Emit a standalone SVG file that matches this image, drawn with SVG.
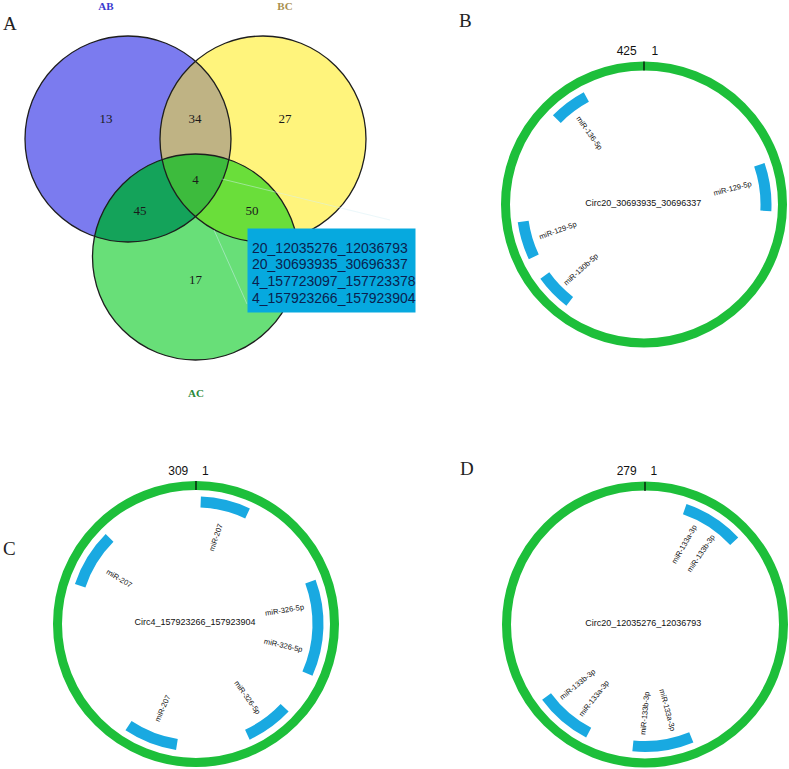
<svg xmlns="http://www.w3.org/2000/svg" width="789" height="769" viewBox="0 0 789 769">
<style>
.panel{font-family:"Liberation Serif",serif;font-size:19px;fill:#222}
.num{font-family:"Liberation Serif",serif;font-size:13px;fill:#1a1a1a;text-anchor:middle}
.set{font-family:"Liberation Serif",serif;font-size:11px;font-weight:bold;text-anchor:middle}
.outl{fill:none;stroke:#1e1e1e;stroke-width:1.3}
.ring{fill:none;stroke:#1dbf3a;stroke-width:9}
.arc{fill:none;stroke:#19a9e1;stroke-width:11}
.tick{stroke:#000;stroke-width:1.2}
.pos{font-family:"Liberation Sans",Arial,sans-serif;font-size:12px;fill:#111}
.mir{font-family:"Liberation Sans",Arial,sans-serif;font-size:7.5px;fill:#111;text-anchor:middle}
.circ{font-family:"Liberation Sans",Arial,sans-serif;font-size:9px;fill:#111;text-anchor:middle}
.box{font-family:"Liberation Sans",Arial,sans-serif;font-size:14px;fill:#0a1f4f}
.call{stroke:#d6f0f6;stroke-width:0.8;opacity:0.6}
</style>
<defs>
<clipPath id="cAB"><circle cx="128" cy="139" r="103"/></clipPath>
<clipPath id="cBC"><circle cx="263" cy="139" r="103"/></clipPath>
</defs>
<rect width="789" height="769" fill="#fff"/>

<g id="panel-a">
<text class="panel" x="3" y="30">A</text>
<text class="set" x="106" y="10" fill="#3a3ad0">AB</text>
<text class="set" x="285" y="10" fill="#a89050">BC</text>
<text class="set" x="196" y="397" fill="#2a8a3a">AC</text>
<circle cx="128" cy="139" r="103" fill="#7b7bef"/>
<circle cx="263" cy="139" r="103" fill="#fff47c"/>
<circle cx="195.5" cy="257" r="103" fill="#68df78"/>
<circle cx="263" cy="139" r="103" fill="#bfb384" clip-path="url(#cAB)"/>
<circle cx="195.5" cy="257" r="103" fill="#14a35a" clip-path="url(#cAB)"/>
<circle cx="195.5" cy="257" r="103" fill="#6ade3a" clip-path="url(#cBC)"/>
<g clip-path="url(#cAB)"><circle cx="195.5" cy="257" r="103" fill="#3dbb3d" clip-path="url(#cBC)"/></g>
<circle class="outl" cx="128" cy="139" r="103"/>
<circle class="outl" cx="263" cy="139" r="103"/>
<circle class="outl" cx="195.5" cy="257" r="103"/>
<text class="num" x="106" y="123">13</text>
<text class="num" x="195" y="123">34</text>
<text class="num" x="285" y="123">27</text>
<text class="num" x="195.5" y="184">4</text>
<text class="num" x="140" y="215">45</text>
<text class="num" x="252" y="215">50</text>
<text class="num" x="195.5" y="284">17</text>
</g>

<g id="connectors">
<line class="call" x1="222" y1="179" x2="390" y2="220"/>
<line class="call" x1="214" y1="230" x2="247" y2="304"/>
</g>

<g id="callout">
<rect x="247.5" y="228.5" width="168" height="84" fill="#06a9df"/>
<text class="box" x="252" y="252.5">20_12035276_12036793</text>
<text class="box" x="252" y="269.2">20_30693935_30696337</text>
<text class="box" x="252" y="285.9">4_157723097_157723378</text>
<text class="box" x="252" y="302.6">4_157923266_157923904</text>
</g>

<g id="panel-b">
<text class="panel" x="459" y="27">B</text>
<circle class="ring" cx="644" cy="204.5" r="138.5"/>
<line class="tick" x1="644" y1="61.5" x2="644" y2="70.5"/>
<text class="pos" x="636.7" y="55" text-anchor="end">425</text>
<text class="pos" x="651.5" y="55">1</text>
<circle class="arc" cx="644" cy="204.5" r="122" pathLength="360" stroke-dasharray="17.4 342.6" transform="rotate(224.4 644 204.5)"/>
<circle class="arc" cx="644" cy="204.5" r="122" pathLength="360" stroke-dasharray="22 338" transform="rotate(-19 644 204.5)"/>
<circle class="arc" cx="644" cy="204.5" r="122" pathLength="360" stroke-dasharray="17.4 342.6" transform="rotate(154.6 644 204.5)"/>
<circle class="arc" cx="644" cy="204.5" r="122" pathLength="360" stroke-dasharray="16.9 343.1" transform="rotate(127.5 644 204.5)"/>
<text class="circ" x="643.3" y="203.3" dy="0.35em">Circ20_30693935_30696337</text>
<text class="mir" dy="0.35em" transform="translate(589.5 133) rotate(54.3)">miR-136-5p</text>
<text class="mir" dy="0.35em" transform="translate(732.5 188.3) rotate(-14.6)">miR-129-5p</text>
<text class="mir" dy="0.35em" transform="translate(557.8 230.3) rotate(-19.7)">miR-129-5p</text>
<text class="mir" dy="0.35em" transform="translate(580.8 269.2) rotate(-42.2)">miR-130b-5p</text>
</g>

<g id="panel-c">
<text class="panel" x="3" y="555">C</text>
<circle class="ring" cx="196" cy="624" r="138.5"/>
<line class="tick" x1="196" y1="481" x2="196" y2="490"/>
<text class="pos" x="188.3" y="475" text-anchor="end">309</text>
<text class="pos" x="202" y="475">1</text>
<circle class="arc" cx="196" cy="624" r="122" pathLength="360" stroke-dasharray="22.8 337.2" transform="rotate(-87.8 196 624)"/>
<circle class="arc" cx="196" cy="624" r="122" pathLength="360" stroke-dasharray="26.6 333.4" transform="rotate(198.3 196 624)"/>
<circle class="arc" cx="196" cy="624" r="122" pathLength="360" stroke-dasharray="44.3 315.7" transform="rotate(-20.3 196 624)"/>
<circle class="arc" cx="196" cy="624" r="122" pathLength="360" stroke-dasharray="21.7 338.3" transform="rotate(43.4 196 624)"/>
<circle class="arc" cx="196" cy="624" r="122" pathLength="360" stroke-dasharray="24.6 335.4" transform="rotate(99 196 624)"/>
<text class="circ" x="195" y="621.7" dy="0.35em">Circ4_157923266_157923904</text>
<text class="mir" dy="0.35em" transform="translate(215.8 537.5) rotate(-71.6)">miR-207</text>
<text class="mir" dy="0.35em" transform="translate(119.2 578.3) rotate(30.5)">miR-207</text>
<text class="mir" dy="0.35em" transform="translate(284.5 610) rotate(-9.3)">miR-326-5p</text>
<text class="mir" dy="0.35em" transform="translate(283.3 645.3) rotate(13.1)">miR-326-5p</text>
<text class="mir" dy="0.35em" transform="translate(247.5 697.5) rotate(54.5)">miR-326-5p</text>
<text class="mir" dy="0.35em" transform="translate(162.5 708.3) rotate(-66.3)">miR-207</text>
</g>

<g id="panel-d">
<text class="panel" x="460" y="475">D</text>
<circle class="ring" cx="645" cy="624.5" r="138.5"/>
<line class="tick" x1="645" y1="482" x2="645" y2="491"/>
<text class="pos" x="636.7" y="475" text-anchor="end">279</text>
<text class="pos" x="650.4" y="475">1</text>
<circle class="arc" cx="645" cy="624.5" r="122" pathLength="360" stroke-dasharray="28 332" transform="rotate(-71 645 624.5)"/>
<circle class="arc" cx="645" cy="624.5" r="122" pathLength="360" stroke-dasharray="26.3 333.7" transform="rotate(117.5 645 624.5)"/>
<circle class="arc" cx="645" cy="624.5" r="122" pathLength="360" stroke-dasharray="28 332" transform="rotate(67.7 645 624.5)"/>
<text class="circ" x="643.3" y="623.3" dy="0.35em">Circ20_12035276_12036793</text>
<text class="mir" dy="0.35em" transform="translate(684.2 544.2) rotate(-60.5)">miR-133a-3p</text>
<text class="mir" dy="0.35em" transform="translate(700.8 553.3) rotate(-55.7)">miR-133b-3p</text>
<text class="mir" dy="0.35em" transform="translate(577.5 684.2) rotate(-39)">miR-133b-3p</text>
<text class="mir" dy="0.35em" transform="translate(593.8 698.3) rotate(-51.7)">miR-133a-3p</text>
<text class="mir" dy="0.35em" transform="translate(644.7 713.3) rotate(-84.7)">miR-133b-3p</text>
<text class="mir" dy="0.35em" transform="translate(667.5 710) rotate(75)">miR-133a-3p</text>
</g>
</svg>
